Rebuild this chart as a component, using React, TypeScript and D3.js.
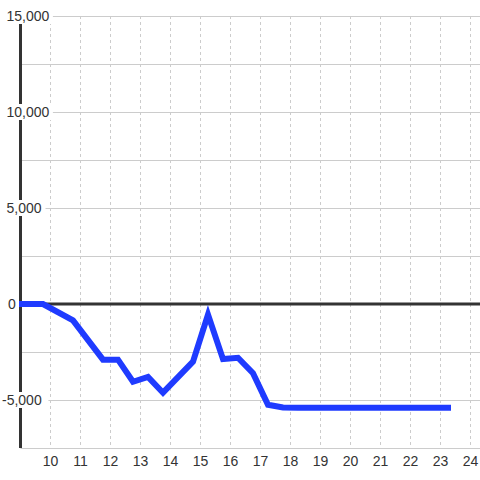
import React from "react";
import * as d3 from "d3";

const hours = [9, 9.75, 10.75, 11.75, 12.25, 12.75, 13.25, 13.75, 14.75, 15.25, 15.75, 16.25, 16.75, 17.25, 17.75, 18.25, 18.75, 19.25, 19.75, 20.25, 20.75, 21.25, 21.75, 22.25, 22.75, 23.25];
const values = [0, 0, -850, -2900, -2900, -4050, -3800, -4620, -3000, -550, -2870, -2800, -3600, -5250, -5390, -5400, -5400, -5400, -5400, -5400, -5400, -5400, -5400, -5400, -5400, -5400];
const xTicks = [10, 11, 12, 13, 14, 15, 16, 17, 18, 19, 20, 21, 22, 23, 24];
const yGrid = [-7500, -5000, -2500, 0, 2500, 5000, 7500, 10000, 12500, 15000];
const yLabels = [-5000, 0, 5000, 10000, 15000];

export default function App() {
  const W = 480, H = 480;
  const left = 20.5, right = 480, top = 16, bottom = 448;
  const x = d3.scaleLinear().domain([9, 24]).range([left, 470.5]);
  const y = d3.scaleLinear().domain([-7500, 15000]).range([bottom, top]);
  const line = d3.line<number>().x((_, i) => x(hours[i])).y((v) => y(v));
  const fmt = d3.format(",");
  const font = "'Liberation Sans', Arial, sans-serif";
  return (
    <svg width={W} height={H} style={{ position: "fixed", left: 0, top: 0, background: "#fff" }}>
      <rect x={0} y={0} width={W} height={H} fill="#fff" />
      {xTicks.map((t) => (
        <line key={"v" + t} x1={x(t)} x2={x(t)} y1={top} y2={bottom} stroke="#ccc" strokeWidth={1} strokeDasharray="3,3" />
      ))}
      {yGrid.map((t) => (
        <line key={"h" + t} x1={left} x2={right} y1={Math.round(y(t)) + 0.5} y2={Math.round(y(t)) + 0.5} stroke="#ccc" strokeWidth={1} />
      ))}
      <line x1={left} x2={left} y1={top} y2={bottom} stroke="#333" strokeWidth={3} />
      <line x1={left} x2={right} y1={y(0)} y2={y(0)} stroke="#333" strokeWidth={3} />
      <path d={line(values) || ""} fill="none" stroke="#1f3bff" strokeWidth={6} strokeLinecap="square" strokeLinejoin="miter" />
      {yLabels.map((t) => {
        const s = fmt(t).replace("−", "-");
        const w = t === 0 ? 9 : s.length * 7.4;
        const x0 = t < 0 ? 2 : t === 0 ? 8 : 6.5;
        return (
          <g key={"yl" + t}>
            <rect x={x0 - 1} y={y(t) - 8} width={w + 3} height={16} fill="#fff" />
            <text x={x0} y={y(t)} dy="0.35em" fontFamily={font} fontSize={14} fill="#333">{s}</text>
          </g>
        );
      })}
      {xTicks.map((t) => (
        <text key={"xl" + t} x={x(t)} y={466} textAnchor="middle" fontFamily={font} fontSize={14} fill="#333">{t}</text>
      ))}
    </svg>
  );
}
